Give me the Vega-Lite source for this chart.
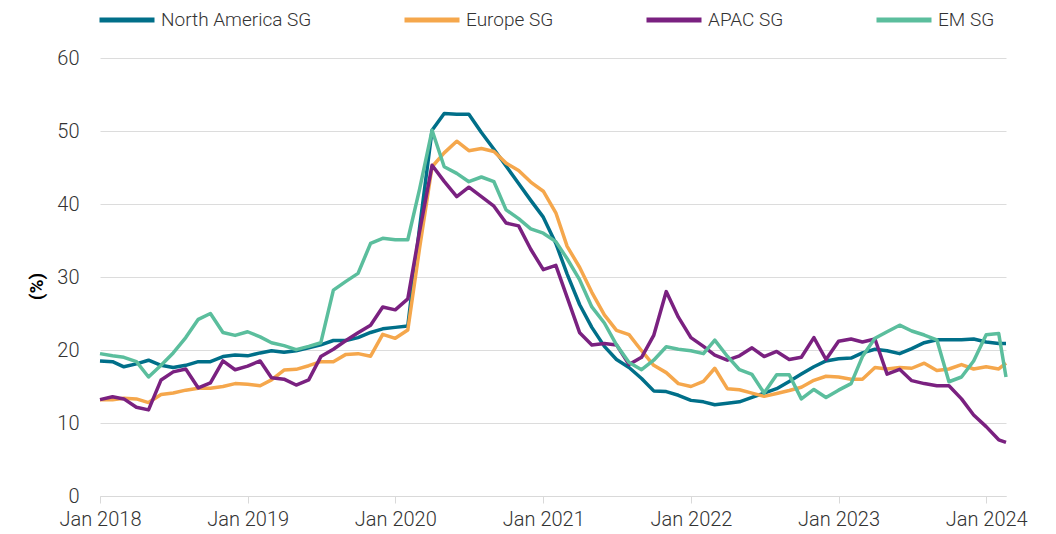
{
 "$schema": "https://vega.github.io/schema/vega-lite/v6.json",
 "width": 906, "height": 438,
 "autosize": {"type": "none"},
 "padding": {"left": 100, "top": 58, "right": 50, "bottom": 38},
 "config": {"font": "Roboto", "view": {"stroke": null}},
 "data": {"values": [
  {"d":"2018-01-01","North America SG":18.5,"Europe SG":13.2,"APAC SG":13.2,"EM SG":19.5},
  {"d":"2018-02-01","North America SG":18.4,"Europe SG":13.2,"APAC SG":13.6,"EM SG":19.2},
  {"d":"2018-03-01","North America SG":17.7,"Europe SG":13.4,"APAC SG":13.3,"EM SG":19.0},
  {"d":"2018-04-01","North America SG":18.1,"Europe SG":13.3,"APAC SG":12.15,"EM SG":18.4},
  {"d":"2018-05-01","North America SG":18.6,"Europe SG":12.8,"APAC SG":11.8,"EM SG":16.3},
  {"d":"2018-06-01","North America SG":17.9,"Europe SG":13.9,"APAC SG":15.9,"EM SG":17.9},
  {"d":"2018-07-01","North America SG":17.6,"Europe SG":14.1,"APAC SG":17.0,"EM SG":19.6},
  {"d":"2018-08-01","North America SG":17.9,"Europe SG":14.5,"APAC SG":17.4,"EM SG":21.7},
  {"d":"2018-09-01","North America SG":18.4,"Europe SG":14.75,"APAC SG":14.8,"EM SG":24.2},
  {"d":"2018-10-01","North America SG":18.4,"Europe SG":14.75,"APAC SG":15.5,"EM SG":25.0},
  {"d":"2018-11-01","North America SG":19.1,"Europe SG":15.0,"APAC SG":18.5,"EM SG":22.4},
  {"d":"2018-12-01","North America SG":19.3,"Europe SG":15.4,"APAC SG":17.3,"EM SG":22.0},
  {"d":"2019-01-01","North America SG":19.2,"Europe SG":15.3,"APAC SG":17.8,"EM SG":22.5},
  {"d":"2019-02-01","North America SG":19.6,"Europe SG":15.1,"APAC SG":18.5,"EM SG":21.8},
  {"d":"2019-03-01","North America SG":19.9,"Europe SG":15.9,"APAC SG":16.2,"EM SG":21.0},
  {"d":"2019-04-01","North America SG":19.7,"Europe SG":17.25,"APAC SG":16.0,"EM SG":20.6},
  {"d":"2019-05-01","North America SG":19.9,"Europe SG":17.35,"APAC SG":15.2,"EM SG":20.05},
  {"d":"2019-06-01","North America SG":20.3,"Europe SG":17.85,"APAC SG":15.9,"EM SG":20.5},
  {"d":"2019-07-01","North America SG":20.7,"Europe SG":18.4,"APAC SG":19.1,"EM SG":21.0},
  {"d":"2019-08-01","North America SG":21.3,"Europe SG":18.4,"APAC SG":20.1,"EM SG":28.2},
  {"d":"2019-09-01","North America SG":21.3,"Europe SG":19.4,"APAC SG":21.3,"EM SG":29.4},
  {"d":"2019-10-01","North America SG":21.7,"Europe SG":19.5,"APAC SG":22.35,"EM SG":30.5},
  {"d":"2019-11-01","North America SG":22.4,"Europe SG":19.15,"APAC SG":23.4,"EM SG":34.6},
  {"d":"2019-12-01","North America SG":22.9,"Europe SG":22.15,"APAC SG":25.9,"EM SG":35.3},
  {"d":"2020-01-01","North America SG":23.1,"Europe SG":21.6,"APAC SG":25.5,"EM SG":35.1},
  {"d":"2020-02-01","North America SG":23.3,"Europe SG":22.75,"APAC SG":27.0,"EM SG":35.1},
  {"d":"2020-03-01","North America SG":36.7,"Europe SG":33.9,"APAC SG":36.2,"EM SG":42.0},
  {"d":"2020-04-01","North America SG":50.1,"Europe SG":45.1,"APAC SG":45.3,"EM SG":50.1},
  {"d":"2020-05-01","North America SG":52.4,"Europe SG":47.0,"APAC SG":43.1,"EM SG":45.1},
  {"d":"2020-06-01","North America SG":52.3,"Europe SG":48.6,"APAC SG":41.0,"EM SG":44.2},
  {"d":"2020-07-01","North America SG":52.3,"Europe SG":47.3,"APAC SG":42.3,"EM SG":43.05},
  {"d":"2020-08-01","North America SG":49.8,"Europe SG":47.6,"APAC SG":41.0,"EM SG":43.7},
  {"d":"2020-09-01","North America SG":47.5,"Europe SG":47.2,"APAC SG":39.7,"EM SG":43.05},
  {"d":"2020-10-01","North America SG":45.2,"Europe SG":45.6,"APAC SG":37.4,"EM SG":39.2},
  {"d":"2020-11-01","North America SG":42.8,"Europe SG":44.6,"APAC SG":37.0,"EM SG":38.0},
  {"d":"2020-12-01","North America SG":40.5,"Europe SG":43.0,"APAC SG":33.8,"EM SG":36.6},
  {"d":"2021-01-01","North America SG":38.2,"Europe SG":41.75,"APAC SG":31.0,"EM SG":36.0},
  {"d":"2021-02-01","North America SG":34.6,"Europe SG":38.8,"APAC SG":31.6,"EM SG":34.85},
  {"d":"2021-03-01","North America SG":30.4,"Europe SG":34.2,"APAC SG":27.2,"EM SG":32.5},
  {"d":"2021-04-01","North America SG":26.2,"Europe SG":31.3,"APAC SG":22.35,"EM SG":29.6},
  {"d":"2021-05-01","North America SG":23.1,"Europe SG":27.9,"APAC SG":20.7,"EM SG":25.9},
  {"d":"2021-06-01","North America SG":20.5,"Europe SG":24.8,"APAC SG":20.9,"EM SG":23.7},
  {"d":"2021-07-01","North America SG":18.7,"Europe SG":22.7,"APAC SG":20.7,"EM SG":20.7},
  {"d":"2021-08-01","North America SG":17.6,"Europe SG":22.1,"APAC SG":18.0,"EM SG":18.3},
  {"d":"2021-09-01","North America SG":16.1,"Europe SG":19.9,"APAC SG":19.0,"EM SG":17.3},
  {"d":"2021-10-01","North America SG":14.4,"Europe SG":17.9,"APAC SG":22.0,"EM SG":18.6},
  {"d":"2021-11-01","North America SG":14.3,"Europe SG":16.9,"APAC SG":28.0,"EM SG":20.45},
  {"d":"2021-12-01","North America SG":13.8,"Europe SG":15.4,"APAC SG":24.5,"EM SG":20.1},
  {"d":"2022-01-01","North America SG":13.1,"Europe SG":15.0,"APAC SG":21.7,"EM SG":19.9},
  {"d":"2022-02-01","North America SG":12.9,"Europe SG":15.7,"APAC SG":20.5,"EM SG":19.5},
  {"d":"2022-03-01","North America SG":12.5,"Europe SG":17.5,"APAC SG":19.3,"EM SG":21.35},
  {"d":"2022-04-01","North America SG":12.7,"Europe SG":14.7,"APAC SG":18.6,"EM SG":19.15},
  {"d":"2022-05-01","North America SG":12.9,"Europe SG":14.55,"APAC SG":19.2,"EM SG":17.3},
  {"d":"2022-06-01","North America SG":13.5,"Europe SG":14.1,"APAC SG":20.3,"EM SG":16.65},
  {"d":"2022-07-01","North America SG":14.1,"Europe SG":13.65,"APAC SG":19.1,"EM SG":14.1},
  {"d":"2022-08-01","North America SG":14.7,"Europe SG":14.05,"APAC SG":19.8,"EM SG":16.6},
  {"d":"2022-09-01","North America SG":15.7,"Europe SG":14.45,"APAC SG":18.7,"EM SG":16.6},
  {"d":"2022-10-01","North America SG":16.7,"Europe SG":14.9,"APAC SG":19.0,"EM SG":13.3},
  {"d":"2022-11-01","North America SG":17.7,"Europe SG":15.85,"APAC SG":21.7,"EM SG":14.6},
  {"d":"2022-12-01","North America SG":18.5,"Europe SG":16.4,"APAC SG":18.7,"EM SG":13.5},
  {"d":"2023-01-01","North America SG":18.8,"Europe SG":16.3,"APAC SG":21.2,"EM SG":14.5},
  {"d":"2023-02-01","North America SG":18.9,"Europe SG":16.0,"APAC SG":21.5,"EM SG":15.4},
  {"d":"2023-03-01","North America SG":19.6,"Europe SG":16.0,"APAC SG":21.1,"EM SG":19.1},
  {"d":"2023-04-01","North America SG":20.1,"Europe SG":17.6,"APAC SG":21.5,"EM SG":21.6},
  {"d":"2023-05-01","North America SG":19.9,"Europe SG":17.4,"APAC SG":16.7,"EM SG":22.5},
  {"d":"2023-06-01","North America SG":19.5,"Europe SG":17.6,"APAC SG":17.35,"EM SG":23.4},
  {"d":"2023-07-01","North America SG":20.2,"Europe SG":17.5,"APAC SG":15.8,"EM SG":22.6},
  {"d":"2023-08-01","North America SG":21.0,"Europe SG":18.2,"APAC SG":15.4,"EM SG":22.05},
  {"d":"2023-09-01","North America SG":21.4,"Europe SG":17.2,"APAC SG":15.1,"EM SG":21.4},
  {"d":"2023-10-01","North America SG":21.4,"Europe SG":17.4,"APAC SG":15.1,"EM SG":15.65},
  {"d":"2023-11-01","North America SG":21.4,"Europe SG":18.0,"APAC SG":13.3,"EM SG":16.3},
  {"d":"2023-12-01","North America SG":21.5,"Europe SG":17.4,"APAC SG":11.1,"EM SG":18.5},
  {"d":"2024-01-01","North America SG":21.1,"Europe SG":17.7,"APAC SG":9.5,"EM SG":22.1},
  {"d":"2024-02-01","North America SG":20.9,"Europe SG":17.4,"APAC SG":7.7,"EM SG":22.25},
  {"d":"2024-02-19","North America SG":20.9,"Europe SG":18.2,"APAC SG":7.35,"EM SG":16.3}
 ]},
 "transform": [{"fold": ["North America SG", "Europe SG", "APAC SG", "EM SG"], "as": ["series", "value"]}],
 "mark": {"type": "line", "strokeWidth": 3.5, "strokeJoin": "round"},
 "encoding": {
  "x": {"field": "d", "type": "temporal", "scale": {"nice": false},
   "axis": {"title": null, "format": "%b %Y", "tickCount": {"interval": "year", "step": 1}, "grid": false, "labelFlush": false, "labelOverlap": false,
    "domainColor": "#d9d9d9", "tickColor": "#d9d9d9", "tickSize": 7, "labelFontSize": 20, "labelColor": "#333333", "labelPadding": 6, "labelFontWeight": 300}},
  "y": {"field": "value", "type": "quantitative", "scale": {"domain": [0, 60]},
   "axis": {"title": "(%)", "titleFontWeight": "bold", "titleFontSize": 19, "titleColor": "#000000", "titleX": -54, "titleY": 228,
    "values": [0, 10, 20, 30, 40, 50, 60], "domain": false, "ticks": false, "tickSize": 0, "labelPadding": 21,
    "gridColor": "#dcdcdc", "labelFontSize": 20, "labelColor": "#333333", "labelFontWeight": 300}},
  "color": {"field": "series", "type": "nominal",
   "scale": {"domain": ["North America SG", "Europe SG", "APAC SG", "EM SG"], "range": ["#006F89", "#F5A74C", "#7A2180", "#5BBE9D"]},
   "legend": {"title": null, "orient": "none", "legendX": -3, "legendY": -68, "direction": "horizontal", "symbolType": "stroke",
    "symbolSize": 3025, "symbolStrokeWidth": 5, "labelFontSize": 19, "labelColor": "#333333", "labelOffset": 4, "columnPadding": 82, "padding": 0, "labelFontWeight": 300}}
 }
}
